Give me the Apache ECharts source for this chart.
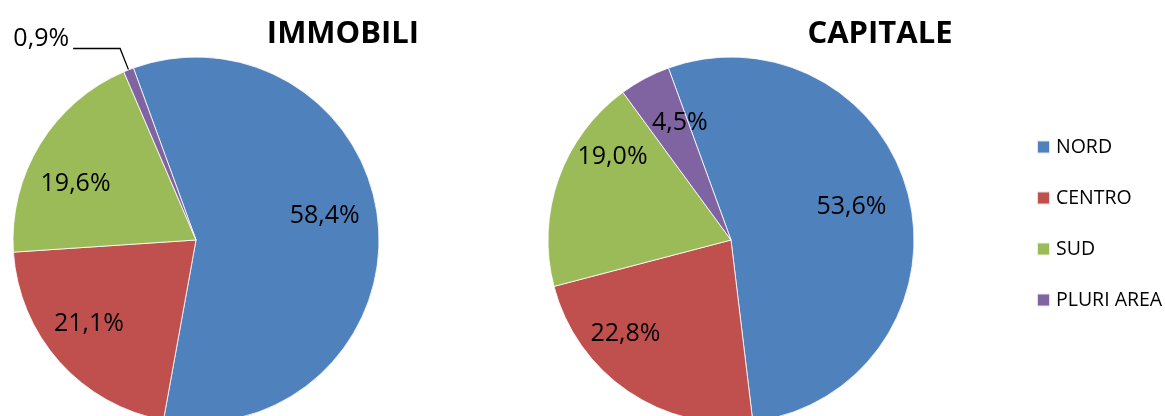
<!DOCTYPE html>
<html>
<head>
<meta charset="utf-8">
<script src="https://cdn.jsdelivr.net/npm/echarts@6/dist/echarts.min.js"></script>
<style>
  html, body { margin: 0; padding: 0; background: #fff; }
  #chart { width: 1165px; height: 416px; }
</style>
</head>
<body>
<div id="chart"></div>
<script>
// Ripartizione per area geografica
const areas = ['NORD', 'CENTRO', 'SUD', 'PLURI AREA'];
const colors = ['#4F81BD', '#C0504D', '#9BBB59', '#8064A2'];
const immobiliValues = [58.4, 21.1, 19.6, 0.9];
const capitaleValues = [53.6, 22.8, 19.0, 4.5];
const chartTitles = ['IMMOBILI', 'CAPITALE'];

const FONT = '"Open Sans", "Noto Sans", sans-serif';
const PIE_CENTERS = [[196, 240], [731, 240]];
const PIE_RADIUS = 183;
// slices too thin to hold their label get it outside with a leader line
const outsideIdx = [[3], []];
// small hand placement of each label after the radial push (pixels)
const labelNudge = [
  [[-5, -13], [-7, -6], [-6, 14], [0, -10]],
  [[-10, -2], [-30, -17], [8, -38], [12, 1]]
];

const fmt = v => v.toFixed(1).replace('.', ',') + '%';

function buildData(values, seriesIdx) {
  return values.map((v, i) => {
    const item = { name: areas[i], value: v };
    if (outsideIdx[seriesIdx].includes(i)) {
      item.label = { position: 'outside', distanceToLabelLine: 4 };
      item.labelLine = { show: true, length: 23, length2: 47, lineStyle: { color: '#000', width: 1.3 } };
    }
    return item;
  });
}

function pieSeries(values, idx) {
  return {
    type: 'pie',
    center: PIE_CENTERS[idx],
    radius: PIE_RADIUS,
    startAngle: 110,
    clockwise: true,
    avoidLabelOverlap: false,
    silent: true,
    itemStyle: { borderColor: 'rgba(255,255,255,0.8)', borderWidth: 1 },
    label: {
      show: true,
      position: 'inside',
      formatter: p => fmt(p.value),
      color: '#000',
      fontFamily: FONT,
      fontSize: 25
    },
    labelLine: { show: false },
    // inside labels sit further out towards the rim
    labelLayout: function (params) {
      const n = labelNudge[idx][params.dataIndex];
      if (outsideIdx[idx].includes(params.dataIndex)) {
        return { dx: n[0], dy: n[1] };
      }
      const r = params.labelRect;
      const c = PIE_CENTERS[idx];
      const lx = r.x + r.width / 2 - c[0];
      const ly = r.y + r.height / 2 - c[1];
      return { dx: lx * 0.42 + n[0], dy: ly * 0.42 + n[1] };
    },
    data: buildData(values, idx)
  };
}

const chart = echarts.init(document.getElementById('chart'), null, { renderer: 'canvas' });
chart.setOption({
  animation: false,
  color: colors,
  title: chartTitles.map((t, i) => ({
    text: t,
    left: [343, 880][i],
    top: 19,
    textAlign: 'center',
    padding: 0,
    textStyle: { fontFamily: FONT, fontWeight: 'bold', fontSize: 31, color: '#000' }
  })),
  legend: {
    orient: 'vertical',
    left: 1036,
    top: 137,
    icon: 'rect',
    itemWidth: 13,
    itemHeight: 13,
    itemGap: 31,
    padding: 0,
    data: areas,
    textStyle: { fontFamily: FONT, fontSize: 19.5, color: '#000', lineHeight: 20, padding: [0, 0, 0, 1] },
    selectedMode: false
  },
  series: [pieSeries(immobiliValues, 0), pieSeries(capitaleValues, 1)]
});
</script>
</body>
</html>
